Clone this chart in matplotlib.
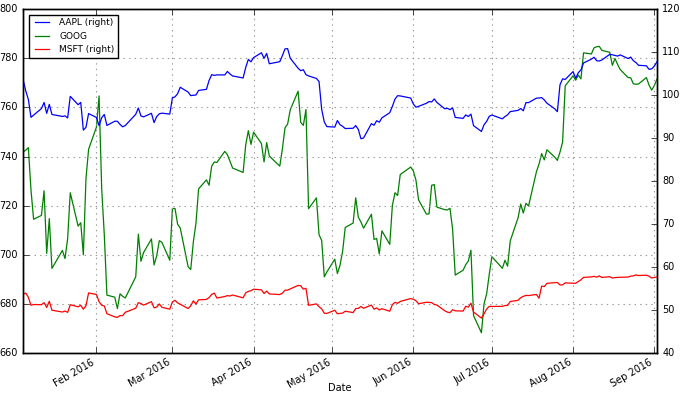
import matplotlib
matplotlib.use('Agg')
import matplotlib.pyplot as plt
import matplotlib.dates as mdates
import pandas as pd

# trading days Jan 4 - Sep 2, 2016
holidays = ['2016-01-18', '2016-02-15', '2016-03-25', '2016-05-30', '2016-07-04']
dates = pd.bdate_range('2016-01-04', '2016-09-02', freq='C', holidays=holidays)

goog = [741.84, 742.58, 743.62, 726.39, 714.47, 716.03, 726.07, 700.56, 714.72, 694.45,
        701.79, 698.45, 706.59, 725.25, 711.67, 713.04, 699.99, 730.96, 742.95,
        752.00, 764.65, 726.95, 708.01, 683.57, 682.74, 678.11, 684.12, 683.11, 682.40,
        691.00, 708.40, 697.35, 700.91, 706.46, 695.85, 699.56, 705.75, 705.07, 697.77,
        718.81, 718.85, 712.42, 710.89, 695.16, 693.97, 705.24, 712.82, 726.82, 730.49,
        728.33, 736.09, 737.78, 737.60, 742.09, 740.75, 738.06, 735.30, 733.53, 744.77,
        750.53, 744.95,
        749.91, 745.29, 737.80, 745.69, 740.28, 739.15, 736.10, 743.09, 751.72, 753.20,
        759.00, 766.61, 753.93, 752.67, 759.14, 718.77, 723.15, 708.14, 705.84, 691.02,
        693.01,
        698.21, 692.36, 695.70, 701.43, 711.12, 712.90, 723.18, 715.29, 713.31, 710.83,
        716.49, 706.23, 706.63, 700.32, 709.74, 704.24, 720.09, 725.27, 724.12, 732.66,
        735.72,
        734.15, 730.40, 722.34, 716.55, 716.65, 728.28, 728.58, 719.41, 718.36, 718.27,
        718.92, 710.36, 691.72, 693.71, 695.94, 697.46, 701.87, 675.22, 668.26, 680.04,
        684.11, 692.10,
        699.21, 694.49, 697.77, 695.36, 705.63, 715.09, 720.64, 716.98, 720.95, 719.85,
        733.78, 736.96, 741.19, 738.63, 742.74, 739.77, 738.42, 741.77, 745.91, 768.79,
        772.88, 771.07, 773.18, 771.61, 782.22, 781.76, 784.26, 784.68, 784.85, 783.22,
        782.44, 777.14, 779.91, 777.50, 775.42, 772.15, 772.08, 769.64, 769.41, 769.54,
        772.15, 769.09, 767.05,
        768.78, 771.46]

aapl = [103.59, 100.99, 99.01, 94.83, 95.34, 96.88, 98.29, 95.76, 97.85, 95.50,
        95.04, 95.17, 94.69, 99.72, 97.77, 98.32, 91.86, 92.51, 95.71,
        94.81, 92.90, 94.74, 95.50, 92.95, 93.93, 93.91, 93.19, 92.63, 92.92,
        95.54, 97.00, 95.16, 94.94, 95.77, 93.61, 95.00, 95.66, 95.80, 95.59,
        99.38, 99.60, 100.34, 101.83, 100.71, 99.88, 99.97, 100.02, 101.09, 101.35,
        103.39, 104.76, 104.59, 104.71, 104.70, 105.50, 104.92, 104.46, 103.99, 106.45,
        108.31, 107.75,
        108.73, 109.85, 108.56, 109.69, 107.30, 107.42, 107.78, 109.18, 110.76, 110.82,
        108.60, 106.25, 105.69, 105.91, 104.76, 104.47, 103.88, 103.16, 96.70, 93.75,
        92.67,
        92.57, 94.09, 93.12, 92.74, 92.22, 92.29, 92.92, 92.01, 89.85, 90.03,
        93.37, 92.99, 94.05, 93.69, 94.71, 95.91, 97.37, 99.08, 99.87, 99.81,
        99.32,
        97.93, 97.19, 97.39, 98.10, 98.50, 98.41, 99.11, 98.30, 96.82, 96.93,
        96.62, 97.02, 94.82, 94.59, 95.39, 95.03, 95.58, 92.90, 91.54, 93.09,
        93.89, 95.08,
        95.37, 94.48, 95.02, 95.42, 96.16, 96.46, 96.89, 96.35, 98.26, 98.25,
        99.29, 99.33, 99.42, 98.89, 98.13, 96.82, 96.15, 102.40, 103.78, 103.65,
        105.48, 103.92, 105.22, 105.87, 107.48, 108.37, 108.81, 108.00, 107.93, 108.18,
        109.48, 109.38, 109.22, 109.08, 109.36, 108.51, 108.85, 108.03, 107.57, 106.94,
        106.82, 106.00, 106.10,
        106.73, 107.73]

msft = [53.70, 53.94, 52.96, 51.12, 51.28, 51.25, 51.72, 50.60, 52.04, 49.96,
        49.54, 49.77, 49.46, 51.24, 50.75, 51.12, 50.19, 51.01, 53.98,
        53.61, 51.93, 51.11, 50.95, 49.15, 48.41, 48.29, 48.71, 48.69, 49.48,
        50.42, 51.73, 51.51, 51.14, 51.96, 50.51, 50.69, 51.42, 50.63, 50.21,
        51.89, 52.26, 51.66, 51.35, 50.36, 50.97, 52.15, 51.37, 52.37, 52.47,
        52.89, 53.64, 53.94, 52.79, 53.15, 53.36, 53.26, 53.50, 52.84, 53.99,
        54.33, 54.51,
        54.84, 54.70, 53.85, 54.40, 53.75, 53.71, 53.60, 53.93, 54.62, 54.63,
        54.92, 55.72, 55.65, 54.86, 55.05, 51.10, 51.43, 50.77, 50.27, 49.25,
        49.22,
        49.95, 49.13, 49.22, 49.29, 49.73, 49.41, 50.35, 50.38, 50.84, 50.41,
        51.15, 50.20, 50.50, 50.01, 50.31, 49.72, 51.27, 51.80, 51.57, 52.00,
        52.67,
        52.52, 52.16, 51.47, 51.81, 51.78, 51.72, 51.30, 51.16, 49.83, 49.52,
        49.38, 50.08, 49.82, 49.76, 50.87, 50.67, 51.59, 49.52, 48.13, 49.13,
        50.23, 50.85,
        50.84, 50.85, 51.06, 51.06, 51.98, 52.26, 52.88, 53.18, 53.41, 53.37,
        53.63, 52.76, 55.56, 55.45, 56.22, 56.38, 56.41, 55.84, 55.86, 56.33,
        56.23, 56.23, 56.62, 57.03, 57.60, 57.70, 57.84, 57.66, 57.94, 57.58,
        57.76, 57.44, 57.56, 57.60, 57.62, 57.67, 57.89, 57.95, 58.17, 58.03,
        58.10, 57.89, 57.46,
        57.59, 57.67]

plt.style.use('classic')
plt.rcParams['font.size'] = 7

fig, ax = plt.subplots(figsize=(6.8, 3.98), dpi=100, facecolor='white')
fig.subplots_adjust(left=0.034, right=0.966, bottom=0.113, top=0.977)
ax2 = ax.twinx()

l_goog, = ax.plot(dates, goog, color='g', lw=0.9)
l_aapl, = ax2.plot(dates, aapl, color='b', lw=0.9)
l_msft, = ax2.plot(dates, msft, color='r', lw=0.9)

ax.set_ylim(660, 800)
ax2.set_ylim(40, 120)
ax.set_xlim(dates[0], dates[-1])
ax.xaxis.set_major_locator(mdates.MonthLocator())
ax.xaxis.set_major_formatter(mdates.DateFormatter('%b %Y'))
ax.grid(True, color='#999999', linestyle=':', linewidth=0.8)
ax.tick_params(axis='x', pad=3)
for lab in ax.get_xticklabels():
    lab.set_rotation(30)
    lab.set_ha('right')
ax.set_xlabel('Date')
ax.xaxis.set_label_coords(0.5, -0.086)

ax2.legend([l_aapl, l_goog, l_msft], ['AAPL (right)', 'GOOG', 'MSFT (right)'],
           loc='upper left', fontsize=6.5, handlelength=2.2, borderaxespad=0.6)

fig.savefig('out.png', dpi=100, facecolor='white')
